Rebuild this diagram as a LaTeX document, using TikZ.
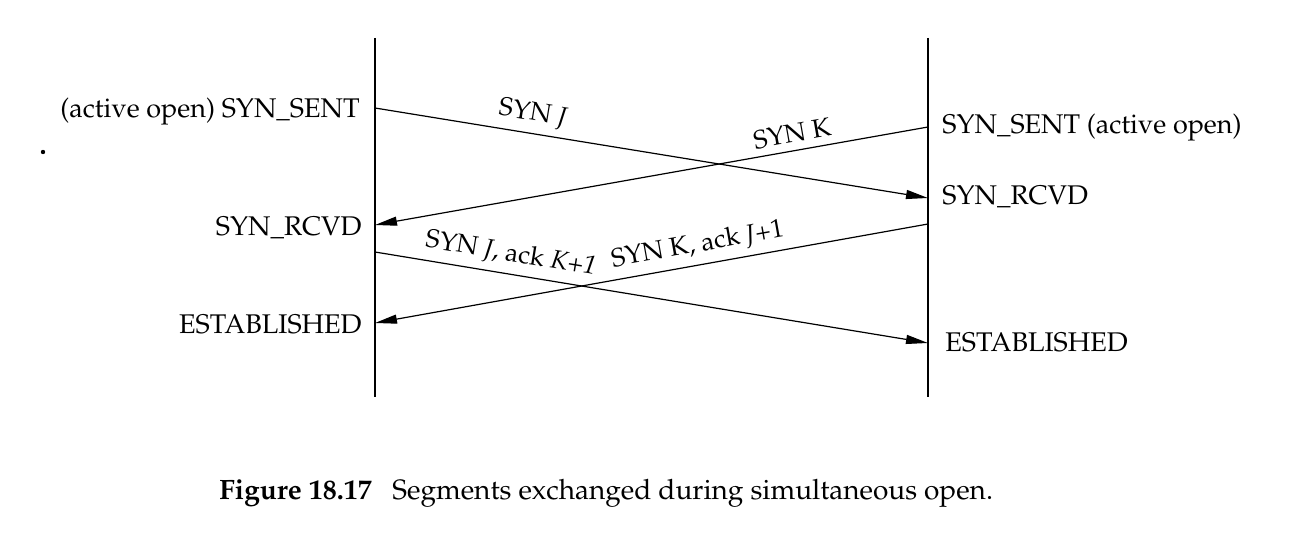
\documentclass[tikz,border=0pt]{standalone}
\usepackage[T1]{fontenc}
\usepackage{mathpazo}
\usepackage{tikz}
\usetikzlibrary{arrows.meta,positioning}

\tikzset{
	etat/.style={font=\fontsize{13.5}{16}\selectfont, inner sep=0pt},
	msg/.style={line width=0.6pt, -{Triangle[length=11pt,width=4.5pt]}},
	lbl/.style={font=\fontsize{13}{15}\selectfont, sloped, above, inner sep=3.5pt, pos=#1},
	vie/.style={line width=0.6pt},
	legende/.style={inner sep=0pt, anchor=base west, font=\fontsize{14}{16}\selectfont}
}

\begin{document}
\begin{tikzpicture}[x=0.5pt, y=-0.5pt]
				\useasboundingbox (0,0) rectangle (1308,535);
				
				% Lignes de vie
				\foreach \x/\n in {375/A, 928/B} {
					\coordinate (\n top) at (\x, 38);
					\coordinate (\n bas) at (\x, 397);
					\draw[vie] (\n top) -- (\n bas);
				}
				
				% Points d'envoi et de réception
				\coordinate (a1) at (375,108);
				\coordinate (a2) at (375,225);
				\coordinate (a3) at (375,252);
				\coordinate (a4) at (375,323);
				\coordinate (b1) at (928,127);
				\coordinate (b2) at (928,198);
				\coordinate (b3) at (928,224);
				\coordinate (b4) at (928,343);
				
				% États à gauche
				\node[etat, anchor=base east] (gsent) at (360,118) {(active open) SYN\_SENT};
				\node[etat, anchor=base east] (grcvd) at (362,235) {SYN\_RCVD};
				\node[etat, anchor=base east] (gest) at (362,333) {ESTABLISHED};
				
				% États à droite
				\node[etat, anchor=base west] (dsent) at (942,134) {SYN\_SENT (active open)};
				\node[etat, anchor=base west] (drcvd) at (942,205) {SYN\_RCVD};
				\node[etat, anchor=base west] (dest) at (945,351) {ESTABLISHED};
				
				% Segments échangés
				\draw[msg] (a1) -- node[lbl=0.28] (mj) {SYN \textit{J}} (b2);
				\draw[msg] (b1) -- node[lbl=0.24] (mk) {SYN K} (a2);
				\draw[msg] (a3) -- node[lbl=0.24] (mjack) {SYN \textit{J}, ack \textit{K+1}} (b4);
				\draw[msg] (b3) -- node[lbl=0.41] (mkack) {SYN K, ack \textit{J}+1} (a4);
				
				\fill (43,152) circle (1.1pt);
				
				% Légende
				\node[legende, font=\fontsize{14}{16}\selectfont\bfseries] (fig) at (219,499) {Figure 18.17};
				\node[legende] (cap) at (392,499) {Segments exchanged during simultaneous open.};
			\end{tikzpicture}
\end{document}
